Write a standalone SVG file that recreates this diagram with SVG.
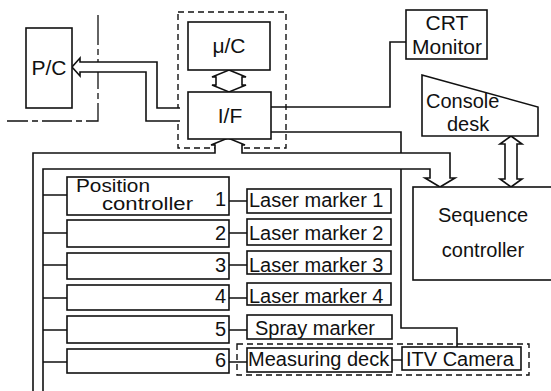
<svg xmlns="http://www.w3.org/2000/svg" width="551" height="391" viewBox="0 0 551 391">
<style>
.b{fill:#fff;stroke:#111;stroke-width:1.6}
.l{fill:none;stroke:#111;stroke-width:1.6}
.w{fill:#fff;stroke:#111;stroke-width:1.6;stroke-linejoin:miter}
.d{fill:none;stroke:#111;stroke-width:1.4;stroke-dasharray:6,4}
.dd{fill:none;stroke:#111;stroke-width:1.3;stroke-dasharray:30,4,6,4}
text{font-family:"Liberation Sans",Arial,sans-serif;font-size:20px;fill:#111}
.c{text-anchor:middle}
.e{text-anchor:end}
.s{font-size:18px}
</style>
<rect width="551" height="391" fill="#fff"/>
<g id="connectors">
<path class="dd" d="M98 15 V121 H7"/>
<rect class="d" x="178" y="12" width="108" height="136"/>
<rect class="d" x="237" y="344" width="292" height="31"/>
<path class="l" d="M271 107 H390 V42 H406"/>
<path class="l" d="M271 132 H401 V153"/>
<path class="l" d="M401 169 V328 H457 V347"/>
<path class="w" d="M180 108 H157 V62 H80 V58 L72 67 L80 76 V72 H146 V121 H180"/>
<path class="w" d="M33 400 V153 H215 V145 H211 L228 138 L245 145 H242 V153 H450 V178 H455 L440 187 L425 178 H430 V169 H43 V400"/>
<path class="w" d="M229 70 L246 77 H242 V85 H246 L229 92 L212 85 H216 V77 H212 Z"/>
<path class="w" d="M511 136 L522 144 H517 V179 H522 L511 187 L500 179 H505 V144 H500 Z"/>
<path class="l" d="M43 195 H67 M43 233 H67 M43 265 H67 M43 298 H67 M43 330 H67 M43 362 H67"/>
<path class="l" d="M229 201 H247 M229 233 H247 M229 265 H247 M229 298 H247 M229 330 H247 M229 362 H247 M392 360 H402"/>
</g>
<g id="pc"><rect class="b" x="26" y="28" width="46" height="80"/><text class="c" x="49" y="75" style="font-size:21px">P/C</text></g>
<g id="uc"><rect class="b" x="188" y="22" width="82" height="48"/><text class="c" x="229" y="53" style="font-size:21px">μ/C</text></g>
<g id="if"><rect class="b" x="188" y="92" width="83" height="47"/><text class="c" x="230" y="123" style="font-size:21px">I/F</text></g>
<g id="crt"><rect class="b" x="406" y="10" width="81" height="49"/><text class="c" x="447" y="30" style="font-size:21px">CRT</text><text class="c" x="447" y="54" style="font-size:21px">Monitor</text></g>
<g id="console"><polygon class="b" points="422,75 538,107 538,136 422,136"/><text x="426" y="108">Console</text><text x="447" y="131">desk</text></g>
<g id="seq"><rect class="b" x="413" y="187" width="145" height="93"/><text class="c" x="483" y="222">Sequence</text><text class="c" x="483" y="257">controller</text></g>
<g id="pos1"><rect class="b" x="67" y="177" width="162" height="38"/><text class="s" x="76" y="192" textLength="74" lengthAdjust="spacingAndGlyphs">Position</text><text class="s" x="102" y="210" textLength="91" lengthAdjust="spacingAndGlyphs">controller</text><text class="e" x="226" y="206">1</text></g>
<g id="pos2"><rect class="b" x="67" y="220" width="162" height="27"/><text class="e" x="226" y="240">2</text></g>
<g id="pos3"><rect class="b" x="67" y="253" width="162" height="26"/><text class="e" x="226" y="272">3</text></g>
<g id="pos4"><rect class="b" x="67" y="285" width="162" height="25"/><text class="e" x="226" y="303">4</text></g>
<g id="pos5"><rect class="b" x="67" y="316" width="162" height="27"/><text class="e" x="226" y="336">5</text></g>
<g id="pos6"><rect class="b" x="67" y="349" width="162" height="24"/><text class="e" x="226" y="367">6</text></g>
<g id="lm1"><rect class="b" x="247" y="189" width="144" height="24"/><text x="249" y="207">Laser marker 1</text></g>
<g id="lm2"><rect class="b" x="247" y="219" width="144" height="26"/><text x="249" y="240">Laser marker 2</text></g>
<g id="lm3"><rect class="b" x="247" y="251" width="144" height="23"/><text x="249" y="272">Laser marker 3</text></g>
<g id="lm4"><rect class="b" x="247" y="283" width="144" height="22"/><text x="249" y="303">Laser marker 4</text></g>
<g id="spray"><rect class="b" x="247" y="315" width="145" height="24"/><text x="255" y="335">Spray marker</text></g>
<g id="deck"><rect class="b" x="247" y="348" width="145" height="24"/><text x="248" y="366">Measuring deck</text></g>
<g id="itv"><rect class="b" x="402" y="347" width="119" height="23"/><text x="406" y="366">ITV Camera</text></g>
</svg>
